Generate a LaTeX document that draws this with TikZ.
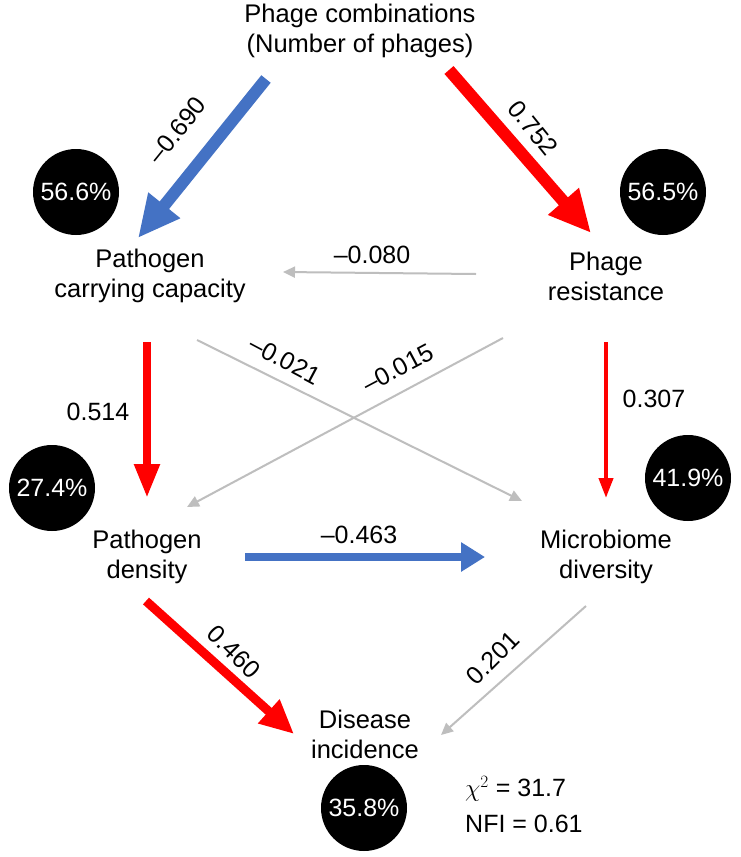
\documentclass[tikz,border=0pt]{standalone}
\usepackage{fontspec}
\setmainfont{Liberation Sans}
\usetikzlibrary{arrows.meta}
\definecolor{pblue}{RGB}{68,114,196}
\definecolor{pred}{RGB}{255,0,0}
\definecolor{pgray}{RGB}{190,190,190}
\begin{document}
\begin{tikzpicture}[x=1pt,y=-1pt,
  lbl/.style={font=\fontsize{25.5}{30}\selectfont, align=center, inner sep=0pt},
  coef/.style={font=\fontsize{25}{28}\selectfont, inner sep=0pt},
  rsq/.style={circle, fill=black, minimum size=86pt, inner sep=0pt, text=white, font=\fontsize{25}{28}\selectfont},
  grayarr/.style={draw=pgray, line width=2pt, -{Triangle[length=12pt,width=11pt]}},
  bigarr/.style={line width=12pt, -{Triangle[length=42pt,width=38pt]}},
  midarr/.style={line width=8pt, -{Triangle[length=34pt,width=24pt]}},
  thinarr/.style={line width=4pt, -{Triangle[length=20pt,width=14pt]}}
]
\useasboundingbox (0,0) rectangle (740,857);
\fill[white] (0,0) rectangle (740,857);

% variable nodes
\node[lbl] (phc) at (360,31) {Phage combinations\\(Number of phages)};
\node[lbl] (pcc) at (150,276) {Pathogen\\carrying capacity};
\node[lbl] (phr) at (606,276) {Phage\\resistance};
\node[lbl] (pd) at (147,557) {Pathogen\\density};
\node[lbl] (md) at (606,557) {Microbiome\\diversity};
\node[lbl] (di) at (365,734) {Disease\\incidence};

% R squared circles
\node[rsq] (r1) at (76,192) {56.6\%};
\node[rsq] (r2) at (663,192) {56.5\%};
\node[rsq] (r3) at (52,488) {27.4\%};
\node[rsq] (r4) at (688,478) {41.9\%};
\node[rsq] (r5) at (364,808) {35.8\%};

% connector endpoints
\coordinate (a1s) at (266,79);  \coordinate (a1e) at (138,238);
\coordinate (a2s) at (449,70);  \coordinate (a2e) at (591,233);
\coordinate (a3s) at (476,274); \coordinate (a3e) at (283,272);
\coordinate (a4s) at (147,342); \coordinate (a4e) at (147,498);
\coordinate (a5s) at (606,342); \coordinate (a5e) at (606,498);
\coordinate (a6s) at (197,340); \coordinate (a6e) at (522,501);
\coordinate (a7s) at (503,338); \coordinate (a7e) at (187,507);
\coordinate (a8s) at (245,557); \coordinate (a8e) at (485,557);
\coordinate (a9s) at (146,601); \coordinate (a9e) at (294,734);
\coordinate (a10s) at (586,606); \coordinate (a10e) at (441,735);

% connectors
\draw[bigarr, draw=pblue, fill=pblue] (a1s) -- (a1e);
\draw[bigarr, draw=pred, fill=pred] (a2s) -- (a2e);
\draw[grayarr] (a3s) -- (a3e);
\draw[midarr, draw=pred, fill=pred] (a4s) -- (a4e);
\draw[thinarr, draw=pred, fill=pred] (a5s) -- (a5e);
\draw[grayarr] (a6s) -- (a6e);
\draw[grayarr] (a7s) -- (a7e);
\draw[line width=8pt, draw=pblue, -{Triangle[length=24pt,width=28pt]}] (a8s) -- (a8e);
\draw[line width=9pt, draw=pred, -{Triangle[length=34pt,width=30pt]}] (a9s) -- (a9e);
\draw[grayarr] (a10s) -- (a10e);

% coefficient labels
\node[coef, rotate=51] (c1) at (177,130) {--0.690};
\node[coef, rotate=-51] (c2) at (533,128) {0.752};
\node[coef] (c3) at (372,255) {--0.080};
\node[coef] (c4) at (98,412) {0.514};
\node[coef] (c5) at (654,399) {0.307};
\node[coef, rotate=-28] (c6) at (285,360) {--0.021};
\node[coef, rotate=28] (c7) at (398,368) {--0.015};
\node[coef] (c8) at (359,535) {--0.463};
\node[coef, rotate=-45] (c9) at (234,652) {0.460};
\node[coef, rotate=45] (c10) at (493,658) {0.201};

% fit statistics
\node[coef, anchor=west] (chi) at (465,789) {$\chi^{2}$ = 31.7};
\node[coef, anchor=west] (nfi) at (465,824) {NFI = 0.61};
\end{tikzpicture}
\end{document}
